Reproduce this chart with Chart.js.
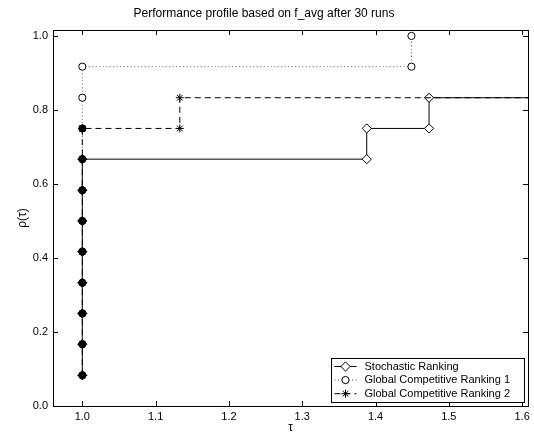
<!DOCTYPE html>
<html>
<head>
<meta charset="utf-8">
<script src="https://cdn.jsdelivr.net/npm/chart.js@4.4.1/dist/chart.umd.min.js"></script>
<style>
  html, body { margin: 0; padding: 0; background: #fff; }
  #wrap { width: 534px; height: 438px; }
</style>
</head>
<body>
<div id="wrap"><canvas id="profil"></canvas></div>
<script>
// Achsen-Ticks
const tauTicks = [1.0, 1.1, 1.2, 1.3, 1.4, 1.5, 1.6];
const rhoTicks = [0.0, 0.2, 0.4, 0.6, 0.8, 1.0];

const seriesNames = ['Stochastic Ranking', 'Global Competitive Ranking 1', 'Global Competitive Ranking 2'];

// Stochastic Ranking
const tauStoch = [1, 1, 1, 1, 1, 1, 1, 1, 1.388, 1.388, 1.473, 1.473, 1.7];
const rhoStoch = [0.083, 0.167, 0.25, 0.333, 0.417, 0.5, 0.583, 0.667, 0.667, 0.75, 0.75, 0.833, 0.833];

// Global Competitive Ranking 1
const tauGcr1 = [1, 1, 1, 1, 1, 1, 1, 1, 1, 1, 1, 1.449, 1.449];
const rhoGcr1 = [0.083, 0.167, 0.25, 0.333, 0.417, 0.5, 0.583, 0.667, 0.75, 0.833, 0.917, 0.917, 1.0];

// Global Competitive Ranking 2
const tauGcr2 = [1, 1, 1, 1, 1, 1, 1, 1, 1, 1.133, 1.133, 1.7];
const rhoGcr2 = [0.083, 0.167, 0.25, 0.333, 0.417, 0.5, 0.583, 0.667, 0.75, 0.75, 0.833, 0.833];

const X_MIN = 0.96, X_MAX = 1.608;
const Y_MIN = 0, Y_MAX = 1.016;

const FONT = "'Liberation Sans', Arial, sans-serif";

const zuPunkte = (xs, ys) => xs.map((x, i) => ({ x: x, y: ys[i] }));
const key = p => p.x.toFixed(3) + ',' + p.y.toFixed(3);

const punkte = [
  zuPunkte(tauStoch, rhoStoch),
  zuPunkte(tauGcr1, rhoGcr1),
  zuPunkte(tauGcr2, rhoGcr2)
];

// Punkte, die von mehreren Kurven belegt sind, erscheinen gefuellt
const zaehler = {};
punkte.forEach(pts => {
  new Set(pts.map(key)).forEach(k => { zaehler[k] = (zaehler[k] || 0) + 1; });
});
const fuellung = ctx => (ctx.raw && zaehler[key(ctx.raw)] > 1) ? '#000' : '#fff';
const radius = r => ctx => (ctx.raw && ctx.raw.x > X_MAX) ? 0 : r;

const stile = [
  { pointStyle: 'rectRot', r: 4.6, dash: [], color: '#000' },
  { pointStyle: 'circle', r: 3.6, dash: [1, 2.5], color: '#555' },
  { pointStyle: 'star', r: 4, dash: [6, 4], color: '#000' }
];

const datasets = punkte.map((pts, i) => ({
  label: seriesNames[i],
  data: pts,
  showLine: true,
  borderColor: stile[i].color,
  borderWidth: 1,
  borderDash: stile[i].dash,
  pointStyle: stile[i].pointStyle,
  pointRadius: radius(stile[i].r),
  pointHoverRadius: radius(stile[i].r),
  pointBorderColor: '#000',
  pointBorderWidth: 1,
  pointBackgroundColor: fuellung,
  order: 3 - i
}));

// Rahmen mit nach innen zeigenden Ticks (wie MATLAB)
const rahmenPlugin = {
  id: 'rahmen',
  afterDatasetsDraw(chart) {
    const { ctx, chartArea: a, scales } = chart;
    ctx.save();
    ctx.strokeStyle = '#000';
    ctx.lineWidth = 1;
    ctx.setLineDash([]);
    ctx.strokeRect(Math.round(a.left) + 0.5, Math.round(a.top) + 0.5,
      Math.round(a.right - a.left), Math.round(a.bottom - a.top));
    const len = 5;
    ctx.beginPath();
    tauTicks.forEach(v => {
      const px = Math.round(scales.x.getPixelForValue(v)) + 0.5;
      ctx.moveTo(px, a.bottom); ctx.lineTo(px, a.bottom - len);
      ctx.moveTo(px, a.top); ctx.lineTo(px, a.top + len);
    });
    rhoTicks.forEach(v => {
      const py = Math.round(scales.y.getPixelForValue(v)) + 0.5;
      ctx.moveTo(a.left, py); ctx.lineTo(a.left + len, py);
      ctx.moveTo(a.right, py); ctx.lineTo(a.right - len, py);
    });
    ctx.stroke();
    ctx.restore();
  }
};

// Legende unten rechts im Plotbereich
const legendePlugin = {
  id: 'legende',
  afterDraw(chart) {
    const { ctx, chartArea: a } = chart;
    const w = 193, h = 44;
    const x0 = Math.round(a.right - 4 - w) + 0.5;
    const y0 = Math.round(a.bottom - 4 - h) + 0.5;
    ctx.save();
    ctx.fillStyle = '#fff';
    ctx.fillRect(x0, y0, w, h);
    ctx.strokeStyle = '#000';
    ctx.lineWidth = 1;
    ctx.strokeRect(x0, y0, w, h);
    ctx.font = '11px ' + FONT;
    ctx.textBaseline = 'middle';
    chart.data.datasets.forEach((ds, i) => {
      const yy = y0 + 8 + i * 13.6;
      ctx.strokeStyle = ds.borderColor;
      ctx.setLineDash(ds.borderDash);
      ctx.beginPath();
      ctx.moveTo(x0 + 3, yy);
      ctx.lineTo(x0 + 25, yy);
      ctx.stroke();
      ctx.setLineDash([]);
      ctx.strokeStyle = '#000';
      ctx.fillStyle = '#fff';
      Chart.helpers.drawPoint(ctx, {
        pointStyle: ds.pointStyle, radius: stile[i].r, rotation: 0, borderWidth: 1
      }, x0 + 14, yy);
      ctx.fillStyle = '#000';
      ctx.fillText(ds.label, x0 + 33, yy);
    });
    ctx.restore();
  }
};

new Chart(document.getElementById('profil'), {
  type: 'scatter',
  data: { datasets: datasets },
  options: {
    responsive: true,
    maintainAspectRatio: false,
    animation: false,
    events: [],
    layout: { padding: { top: 0, right: 6, left: 0, bottom: 0 } },
    scales: {
      x: {
        type: 'linear',
        min: X_MIN,
        max: X_MAX,
        afterBuildTicks: s => { s.ticks = tauTicks.map(v => ({ value: v })); },
        afterFit: s => { s.height = 32; },
        grid: { display: false, drawTicks: false },
        border: { display: false },
        ticks: {
          padding: 4,
          color: '#000',
          font: { family: FONT, size: 11 },
          callback: v => v.toFixed(1)
        },
        title: {
          display: true,
          text: 'τ',
          color: '#000',
          font: { family: FONT, size: 12 },
          padding: { top: 0, bottom: 3 }
        }
      },
      y: {
        type: 'linear',
        min: Y_MIN,
        max: Y_MAX,
        afterBuildTicks: s => { s.ticks = rhoTicks.map(v => ({ value: v })); },
        afterFit: s => { s.width = 53; },
        grid: { display: false, drawTicks: false },
        border: { display: false },
        ticks: {
          padding: 5,
          color: '#000',
          font: { family: FONT, size: 11 },
          callback: v => v.toFixed(1)
        },
        title: {
          display: true,
          text: 'ρ(τ)',
          color: '#000',
          font: { family: FONT, size: 12 },
          padding: { top: 15, bottom: 0 }
        }
      }
    },
    plugins: {
      legend: { display: false },
      tooltip: { enabled: false },
      title: {
        display: true,
        text: 'Performance profile based on f_avg after 30 runs',
        color: '#000',
        font: { family: FONT, size: 12, weight: 'normal' },
        padding: { top: 6, bottom: 9.6 }
      }
    }
  },
  plugins: [rahmenPlugin, legendePlugin]
});
</script>
</body>
</html>
